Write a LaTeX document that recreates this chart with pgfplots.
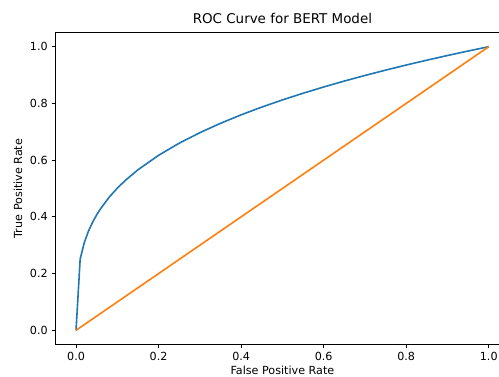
\documentclass[border=0pt]{standalone}
\usepackage{fontspec}
\setmainfont{DejaVu Sans}
\usepackage{pgfplots}
\pgfplotsset{compat=1.18}
\definecolor{c0}{HTML}{1F77B4}
\definecolor{c1}{HTML}{FF7F0E}
\begin{document}
\fontsize{11.2}{13}\selectfont
\begin{tikzpicture}[x=1bp,y=1bp]
\begin{axis}[
  scale only axis,
  width=454bp, height=312bp,
  xmin=-0.05, xmax=1.05, ymin=-0.05, ymax=1.05,
  xtick={0,0.2,0.4,0.6,0.8,1.0},
  ytick={0,0.2,0.4,0.6,0.8,1.0},
  xticklabels={0.0,0.2,0.4,0.6,0.8,1.0},
  yticklabels={0.0,0.2,0.4,0.6,0.8,1.0},
  tick align=outside, tick pos=left,
  major tick length=3.8bp,
  axis line style={line width=0.85bp},
  every tick/.style={black,line width=0.85bp},
  tick label style={font=\fontsize{11.2}{13}\selectfont},
  label style={font=\fontsize{11.2}{13}\selectfont},
  xlabel style={yshift=2bp},
  title style={font=\fontsize{13.5}{15}\selectfont, yshift=-1bp},
  title={ROC Curve for BERT Model},
  xlabel={False Positive Rate},
  ylabel={True Positive Rate},
  /pgf/number format/assume math mode=true,
]
\addplot[c0, line width=1.6bp] coordinates {
(0,0) (0.01,0.2512) (0.02,0.3092) (0.03,0.3493) (0.04,0.3807) (0.05,0.4071)
(0.06,0.4300) (0.08,0.4687) (0.10,0.5012) (0.12,0.5293) (0.15,0.5660)
(0.2,0.6170) (0.25,0.6598) (0.3,0.6968) (0.35,0.7298) (0.4,0.7597)
(0.45,0.7870) (0.5,0.8123) (0.55,0.8358) (0.6,0.8579) (0.65,0.8788)
(0.7,0.8985) (0.75,0.9173) (0.8,0.9353) (0.85,0.9524) (0.9,0.9689)
(0.95,0.9847) (1,1)
};
\addplot[c1, line width=1.6bp] coordinates {(0,0) (1,1)};
\end{axis}
\pgfresetboundingbox
\path[use as bounding box] ([xshift=-55.4bp,yshift=-32.5bp]current axis.south west) rectangle ([xshift=-10.4bp,yshift=32.5bp]current axis.north east);
\end{tikzpicture}
\end{document}
